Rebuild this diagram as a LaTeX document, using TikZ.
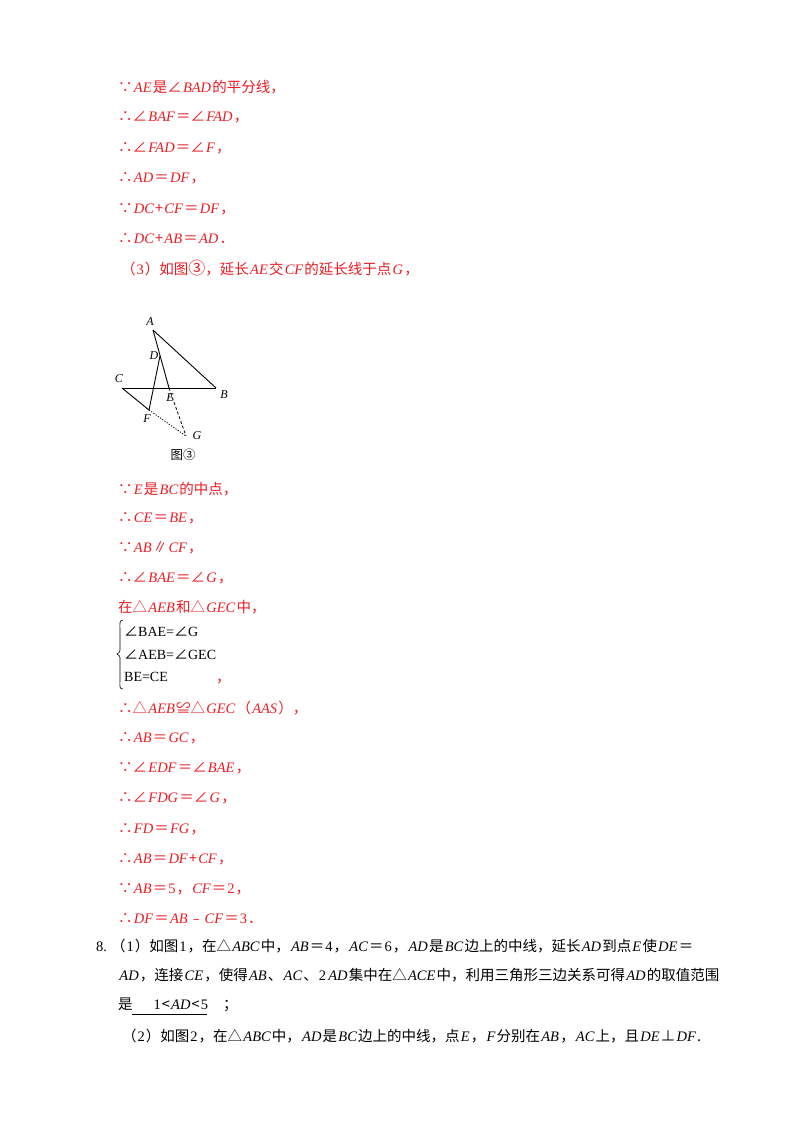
\documentclass[tikz,border=0pt]{standalone}
\usepackage{fontspec}
\setmainfont{Noto Sans CJK SC}
\newfontfamily\lat{Liberation Serif}
\newcommand\I[1]{\hspace{1.2pt}{\lat\itshape #1}\hspace{1.2pt}}
\newcommand\R[1]{\hspace{1pt}{\lat #1}\hspace{1pt}}
\definecolor{ans}{RGB}{236,28,36}
\begin{document}
\begin{tikzpicture}[x=1pt,y=-1pt,
  ln/.style={anchor=west,inner sep=0pt,font=\fontsize{14.5}{16}\selectfont,text=ans},
  bk/.style={ln,text=black},
  lab/.style={inner sep=0pt,font=\fontsize{12}{13}\lat\itshape},
  seg/.style={line width=0.9pt},
  dsh/.style={line width=0.8pt,dash pattern=on 3pt off 2pt},
  dot/.style={line width=0.8pt,dash pattern=on 1.2pt off 1.5pt}]
\useasboundingbox (0,0) rectangle (800,1132);
\fill[white] (0,0) rectangle (800,1132);
\node[ln] (l1) at (118,87) {∵\I{AE}是∠\I{BAD}的平分线，};
\node[ln] (l2) at (118,117) {∴∠\I{BAF}＝∠\I{FAD}，};
\node[ln] (l3) at (118,148) {∴∠\I{FAD}＝∠\I{F}，};
\node[ln] (l4) at (118,178) {∴\I{AD}＝\I{DF}，};
\node[ln] (l5) at (118,209) {∵\I{DC}+\I{CF}＝\I{DF}，};
\node[ln] (l6) at (118,239) {∴\I{DC}+\I{AB}＝\I{AD}．};
\node[ln] (l7) at (121,268) {（\R{3}）如图{\fontsize{17}{17}\selectfont ③}，延长\I{AE}交\I{CF}的延长线于点\I{G}，};
% figure
\coordinate (A) at (153,330);
\coordinate (D) at (160,356);
\coordinate (C) at (122,388);
\coordinate (B) at (216,388);
\coordinate (E) at (169,388);
\coordinate (F) at (149,410);
\coordinate (G) at (186,436);
\draw[seg] (A) -- (B);
\draw[seg] (A) -- (E);
\draw[seg] (C) -- (B);
\draw[seg] (C) -- (F);
\draw[seg] (F) -- (D);
\draw[dsh] (E) -- (G);
\draw[dot] (F) -- (G);
\node[lab] (lA) at (150,322) {A};
\node[lab] (lD) at (154,356) {D};
\node[lab] (lC) at (119,379) {C};
\node[lab] (lB) at (224,395) {B};
\node[lab] (lE) at (170,398) {E};
\node[lab] (lF) at (147,419) {F};
\node[lab] (lG) at (197,436) {G};
\node[inner sep=0pt,font=\fontsize{12.5}{13}\selectfont] (cap) at (183,455) {图③};
\node[ln] (m1) at (118,489) {∵\I{E}是\I{BC}的中点，};
\node[ln] (m2) at (118,518) {∴\I{CE}＝\I{BE}，};
\node[ln] (m3) at (118,548) {∵\I{AB}∥\I{CF}，};
\node[ln] (m4) at (118,578) {∴∠\I{BAE}＝∠\I{G}，};
\node[ln] (m5) at (118,607) {在△\I{AEB}和△\I{GEC}中，};
\node[bk,font=\fontsize{14}{15}\selectfont] (b1) at (124,632) {∠{\lat BAE=}∠{\lat G}};
\node[bk,font=\fontsize{14}{15}\selectfont] (b2) at (124,655) {∠{\lat AEB=}∠{\lat GEC}};
\node[bk,font=\fontsize{14}{15}\selectfont] (b3) at (124,677) {{\lat BE=CE}};
\draw[line width=0.6pt] (123,620) .. controls (119,620) and (120,624) .. (120,630) -- (120,648) .. controls (120,652) .. (117,654) .. controls (120,656) .. (120,660) -- (120,680) .. controls (120,686) and (119,689) .. (123,689);
\node[ln] (bc) at (216,682) {，};
\node[ln] (n1) at (118,708) {∴△\I{AEB}≌△\I{GEC}（\I{AAS}），};
\node[ln] (n2) at (118,738) {∴\I{AB}＝\I{GC}，};
\node[ln] (n3) at (118,768) {∵∠\I{EDF}＝∠\I{BAE}，};
\node[ln] (n4) at (118,798) {∴∠\I{FDG}＝∠\I{G}，};
\node[ln] (n5) at (118,829) {∴\I{FD}＝\I{FG}，};
\node[ln] (n6) at (118,859) {∴\I{AB}＝\I{DF}+\I{CF}，};
\node[ln] (n7) at (118,889) {∵\I{AB}＝\R{5}，\I{CF}＝\R{2}，};
\node[ln] (n8) at (118,919) {∴\I{DF}＝\I{AB}﹣\I{CF}＝\R{3}．};
\node[bk] (q1) at (96,946) {{\lat 8.}\hspace{4pt}（\R{1}）如图\R{1}，在△\I{ABC}中，\I{AB}＝\R{4}，\I{AC}＝\R{6}，\I{AD}是\I{BC}边上的中线，延长\I{AD}到点\I{E}使\I{DE}＝};
\node[bk] (q2) at (118,975) {\I{AD}，连接\I{CE}，使得\I{AB}、\I{AC}、\R{2}\I{AD}集中在△\I{ACE}中，利用三角形三边关系可得\I{AD}的取值范围};
\node[bk] (q3) at (118,1005) {是\hspace{20pt}\R{1}<\I{AD}<\R{5}\hspace{14pt}；};
\draw[line width=0.6pt] (132,1014) -- (207,1014);
\node[bk] (q4) at (122,1036) {（\R{2}）如图\R{2}，在△\I{ABC}中，\I{AD}是\I{BC}边上的中线，点\I{E}，\I{F}分别在\I{AB}，\I{AC}上，且\I{DE}⊥\I{DF}.};
\end{tikzpicture}
\end{document}
